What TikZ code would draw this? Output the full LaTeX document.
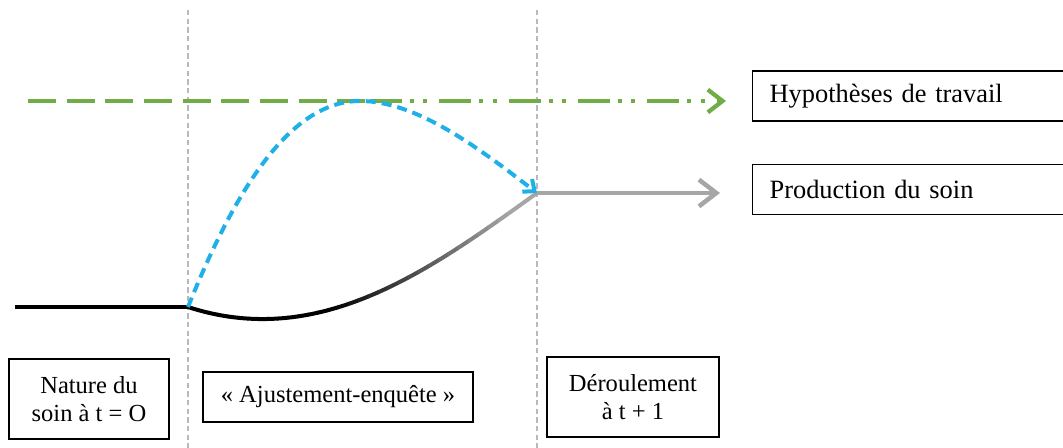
\documentclass[tikz,border=0pt]{standalone}
\usepackage{fontspec}
\setmainfont{Liberation Serif}
\usetikzlibrary{arrows.meta, positioning}
\definecolor{hypgreen}{RGB}{112,173,71}
\definecolor{adjblue}{RGB}{30,176,230}
\definecolor{prodgray}{RGB}{166,166,166}

\begin{document}
\begin{tikzpicture}[x=0.75pt, y=-0.75pt, >={Straight Barb[length=11pt,width=17pt]}]
    \tikzset{box/.style={draw, line width=0.9pt, align=center, inner sep=0pt, font=\fontsize{18.4}{21}\selectfont},
        labelbox/.style={box, anchor=west, align=left, text width=220pt, inner xsep=12.75pt, minimum height=37.5pt, font=\fontsize{19.8}{23}\selectfont},
        phase/.style={draw=gray!55, line width=0.8pt, dash pattern=on 4pt off 2.5pt},
        hyp/.style={hypgreen, line width=3.2pt},
        adjust/.style={adjblue, line width=3pt, dash pattern=on 7.5pt off 4.5pt},
        care/.style={line width=3.4pt}
    }
    \useasboundingbox (0,0) rectangle (1063,448);

    % phases
    \foreach \i / \x in {A/188, B/537} {
        \coordinate (sep\i-top) at (\x, 10);
        \coordinate (sep\i-bot) at (\x, 448);
        \draw [phase] (sep\i-top) -- (sep\i-bot);
    }

    \node (nature) [box, minimum width=120pt, minimum height=60pt] at (89,399) {Nature du\\soin à t = O};
    \node (ajust) [box, minimum width=202.5pt, minimum height=37.5pt] at (338,397) {« Ajustement-enquête »};
    \node (deroul) [box, minimum width=129pt, minimum height=60pt] at (633,397) {Déroulement\\à t + 1};
    \node (hypo) [labelbox] at (752,96) {Hypothèses de travail};
    \node (prod) [labelbox] at (752,189.5) {Production du soin};

    \coordinate (hyp-start) at (28,101);
    \coordinate (hyp-mid) at (370,101);
    \coordinate (hyp-end) at (726,101);
    \coordinate (care-start) at (15,307);
    \coordinate (split) at (188,307);
    \coordinate (peak) at (360,101);
    \coordinate (join) at (537,193);
    \coordinate (prod-end) at (720,193);

    \draw [hyp, dash pattern=on 21pt off 8pt] (hyp-start) -- (hyp-mid);
    \draw [hyp, ->, dash pattern=on 24pt off 6pt on 3pt off 7pt on 3pt off 9pt] (hyp-mid) -- (hyp-end);

    \draw [care] (care-start) -- (split);
    % black to gray
    \foreach \i in {0,...,34} {
        \pgfmathsetmacro{\xa}{188+10*\i}
        \pgfmathsetmacro{\shade}{max(0,min(100,(505-\xa)/1.8))}
        \begin{scope}
            \clip (\xa-0.4,150) rectangle (\xa+10.4,360);
            \draw [care, line width=3pt, black!\shade!prodgray] (split) .. controls (320,350) and (430,270) .. (join);
        \end{scope}
    }
    \draw [care, prodgray, ->, >={Straight Barb[length=13pt,width=20pt]}] (join) -- (prod-end);

    \draw [adjust, ->, >={Straight Barb[length=7pt,width=12pt]}] (split) .. controls (235,190) and (290,101) .. (peak)
        .. controls (415,101) and (475,145) .. (join);
\end{tikzpicture}
\end{document}
